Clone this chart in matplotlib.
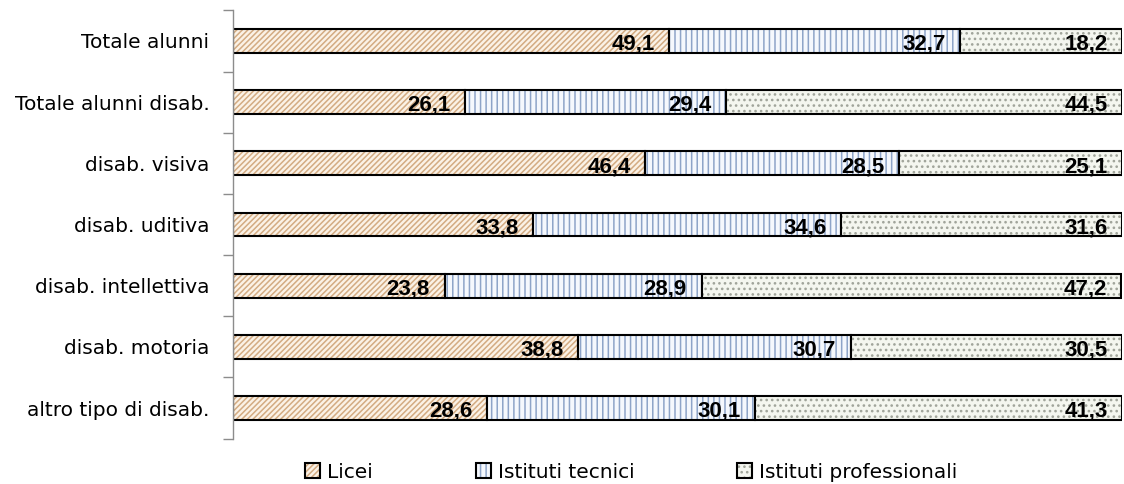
import numpy as np
import matplotlib
matplotlib.use('Agg')
import matplotlib.pyplot as plt
from matplotlib.legend_handler import HandlerTuple

categories = ['Totale alunni', 'Totale alunni disab.', 'disab. visiva', 'disab. uditiva',
              'disab. intellettiva', 'disab. motoria', 'altro tipo di disab.']
licei = [49.1, 26.1, 46.4, 33.8, 23.8, 38.8, 28.6]
tecnici = [32.7, 29.4, 28.5, 34.6, 28.9, 30.7, 30.1]
professionali = [18.2, 44.5, 25.1, 31.6, 47.2, 30.5, 41.3]
series_names = ['Licei', 'Istituti tecnici', 'Istituti professionali']

# face colour, hatch colour, hatch pattern
styles = [('#fbf2e6', '#d3ab82', '//////'),
          ('#f5f8fd', '#8ea4c8', '|||'),
          ('#f4f6ef', '#a0a49a', '...')]

plt.rcParams['hatch.linewidth'] = 1.1

fig = plt.figure(figsize=(11.24, 4.84), dpi=100)
ax = fig.add_axes([233/1124, 1-438.6/484, 889/1124, 428.2/484])

y = np.arange(len(categories))
left = np.zeros(len(categories))
handles = []
for vals, name, (fc, hc, hatch) in zip([licei, tecnici, professionali], series_names, styles):
    vals = np.array(vals)
    hb = ax.barh(y, vals, left=left, height=0.39, color=fc, edgecolor=hc,
                 hatch=hatch, linewidth=0, label=name)
    ob = ax.barh(y, vals, left=left, height=0.39, facecolor='none',
                 edgecolor='black', linewidth=1.5)
    texts = ax.bar_label(ob, labels=[f'{v:.1f}'.replace('.', ',') for v in vals],
                         padding=-10.5, fontsize=16, fontweight='bold',
                         family='Liberation Sans', color='black')
    for t in texts:
        t.set_ha('right')
        t.set_va('center_baseline')
        t.xyann = (t.xyann[0], -0.5)
    handles.append((hb, ob))
    left += vals

ax.set_xlim(0, 100)
ax.set_ylim(len(categories)-0.5, -0.5)
ax.set_yticks(y)
ax.set_yticklabels(categories, fontsize=14.5)
ax.set_yticks(np.arange(-0.5, len(categories)), minor=True)
ax.tick_params(axis='y', which='major', length=0, pad=17)
ax.tick_params(axis='y', which='minor', length=7.2, width=1, color='#8c8c8c')
ax.xaxis.set_visible(False)
for s in ['top', 'right', 'bottom']:
    ax.spines[s].set_visible(False)
ax.spines['left'].set_color('#8c8c8c')
ax.spines['left'].set_linewidth(1)

fig.legend(handles, series_names, loc='center left', bbox_to_anchor=(305/1124, 1-472/484),
           ncol=3, frameon=False, fontsize=14.5, borderpad=0, borderaxespad=0,
           handlelength=0.75, handleheight=0.7, handletextpad=0.35, columnspacing=5.1,
           handler_map={tuple: HandlerTuple(ndivide=1)})

fig.savefig('out.png', dpi=100)
